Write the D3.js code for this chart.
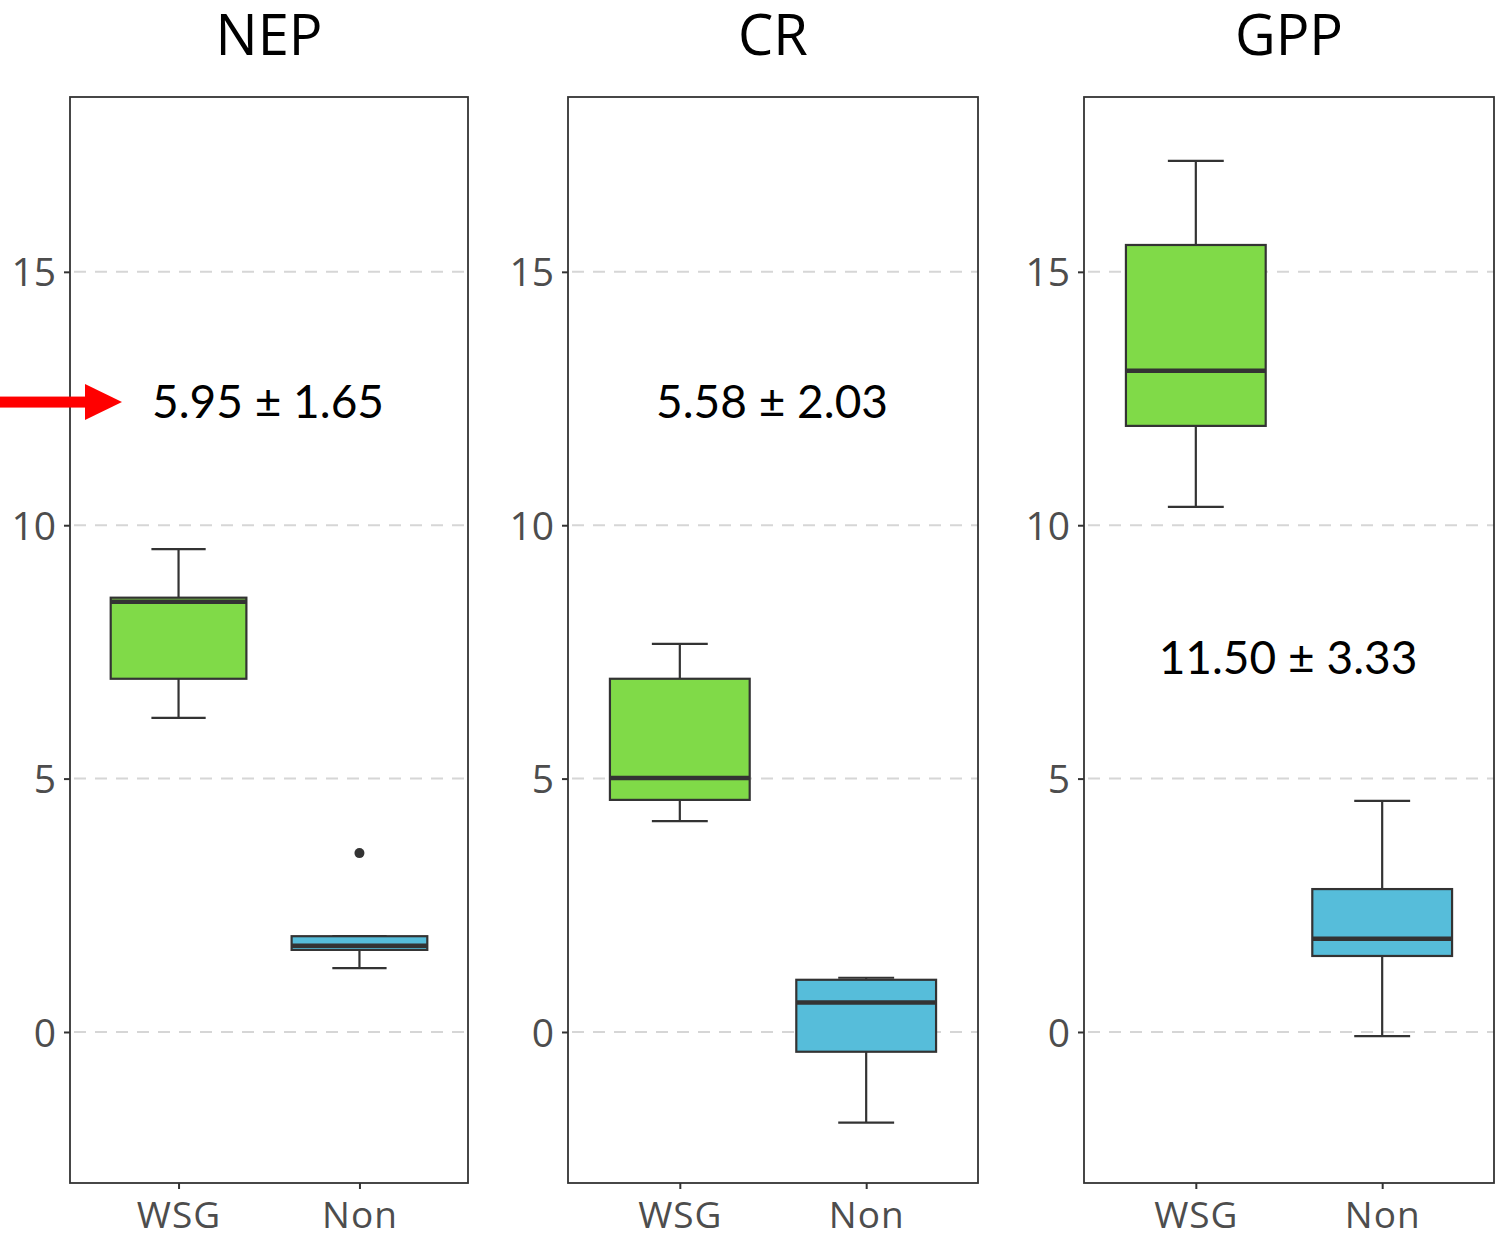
<!DOCTYPE html>
<html>
<head>
<meta charset="utf-8">
<script src="https://cdn.jsdelivr.net/npm/d3@7"></script>
<style>
  body { margin: 0; background: #fff; }
  svg { display: block; }
</style>
</head>
<body>
<div id="chart"></div>
<script>
// chart values
var panels = ["NEP", "CR", "GPP"];
var groups = ["WSG", "Non"];
var yTicks = [0, 5, 10, 15];

// [lower whisker, Q1, median, Q3, upper whisker] per panel, per group
var statsWSG = [
  [6.20, 6.97, 8.49, 8.57, 9.53],
  [4.16, 4.58, 5.01, 6.97, 7.66],
  [10.36, 11.96, 13.05, 15.53, 17.19]
];
var statsNon = [
  [1.26, 1.62, 1.70, 1.89, 1.89],
  [-1.79, -0.39, 0.58, 1.03, 1.07],
  [-0.08, 1.50, 1.84, 2.82, 4.56]
];
var outliersWSG = [[], [], []];
var outliersNon = [[3.53], [], []];

var labels = ["5.95 ± 1.65", "5.58 ± 2.03", "11.50 ± 3.33"];
var labelY = [12.43, 12.43, 7.38];

var W = 1503, H = 1239;
var plotTop = 97, plotBottom = 1183;
var panelX = [[70, 468], [568, 978], [1084, 1494]];
var colors = { WSG: "#80DA48", Non: "#56BDDA" };

var svg = d3.select("#chart").append("svg")
    .attr("width", W)
    .attr("height", H);

var y = d3.scaleLinear().domain([-2.98, 18.45]).range([plotBottom, plotTop]);

panels.forEach(function(name, p) {
    var x0 = panelX[p][0], x1 = panelX[p][1];
    // ggplot-style discrete expansion: 0.6 units each side
    var unit = (x1 - x0) / 2.2;
    var x = d3.scalePoint().domain(groups).range([x0 + 0.6 * unit, x1 - 0.6 * unit]);

    var g = svg.append("g");

    // grid
    g.selectAll("line.grid").data(yTicks).enter().append("line")
        .attr("class", "grid")
        .attr("x1", x0 + 4).attr("x2", x1)
        .attr("y1", function(d) { return y(d); })
        .attr("y2", function(d) { return y(d); })
        .attr("stroke", "#d6d6d6")
        .attr("stroke-width", 2)
        .attr("stroke-dasharray", "12,9");

    // y axis
    var yAxis = g.append("g")
        .attr("transform", "translate(" + x0 + ",0)")
        .call(d3.axisLeft(y).tickValues(yTicks).tickSize(6).tickPadding(8));
    yAxis.select(".domain").remove();
    yAxis.selectAll("line").attr("stroke", "#333").attr("stroke-width", 2);
    yAxis.selectAll("text")
        .attr("font-family", "'Open Sans', sans-serif")
        .attr("font-size", 39)
        .attr("fill", "#4d4d4d")
        .attr("dy", "0.36em");

    // x axis
    var xAxis = g.append("g")
        .attr("transform", "translate(0," + plotBottom + ")")
        .call(d3.axisBottom(x).tickSize(6).tickPadding(13));
    xAxis.select(".domain").remove();
    xAxis.selectAll("line").attr("stroke", "#333").attr("stroke-width", 2);
    xAxis.selectAll("text")
        .attr("font-family", "'Open Sans', sans-serif")
        .attr("font-size", 37)
        .attr("letter-spacing", 1)
        .attr("fill", "#4d4d4d");

    // boxes
    var boxW = 0.75 * unit, capW = 0.3 * unit;
    var rows = [
        { grp: "WSG", s: statsWSG[p], out: outliersWSG[p] },
        { grp: "Non", s: statsNon[p], out: outliersNon[p] }
    ];
    rows.forEach(function(r) {
        var c = x(r.grp);
        var bg = g.append("g");
        // whiskers
        bg.append("line").attr("x1", c).attr("x2", c)
            .attr("y1", y(r.s[3])).attr("y2", y(r.s[4]))
            .attr("stroke", "#333").attr("stroke-width", 2.2);
        bg.append("line").attr("x1", c).attr("x2", c)
            .attr("y1", y(r.s[0])).attr("y2", y(r.s[1]))
            .attr("stroke", "#333").attr("stroke-width", 2.2);
        [r.s[0], r.s[4]].forEach(function(v) {
            bg.append("line").attr("x1", c - capW / 2).attr("x2", c + capW / 2)
                .attr("y1", y(v)).attr("y2", y(v))
                .attr("stroke", "#333").attr("stroke-width", 2.2);
        });
        bg.append("rect")
            .attr("x", c - boxW / 2).attr("width", boxW)
            .attr("y", y(r.s[3])).attr("height", y(r.s[1]) - y(r.s[3]))
            .attr("fill", colors[r.grp])
            .attr("stroke", "#333").attr("stroke-width", 2.2);
        bg.append("line").attr("x1", c - boxW / 2).attr("x2", c + boxW / 2)
            .attr("y1", y(r.s[2])).attr("y2", y(r.s[2]))
            .attr("stroke", "#333").attr("stroke-width", 4.5);
        bg.selectAll("circle").data(r.out).enter().append("circle")
            .attr("cx", c).attr("cy", function(d) { return y(d); })
            .attr("r", 5).attr("fill", "#333");
    });

    // panel border
    g.append("rect")
        .attr("x", x0).attr("y", plotTop)
        .attr("width", x1 - x0).attr("height", plotBottom - plotTop)
        .attr("fill", "none").attr("stroke", "#333").attr("stroke-width", 1.8);

    // title
    g.append("text")
        .attr("x", (x0 + x1) / 2).attr("y", 55)
        .attr("text-anchor", "middle")
        .attr("font-family", "'Open Sans', sans-serif")
        .attr("font-size", 56)
        .attr("fill", "#000")
        .text(name);

    // mean +- sd label
    g.append("text")
        .attr("x", (x0 + x1) / 2 - 1).attr("y", y(labelY[p]))
        .attr("dy", "0.35em")
        .attr("text-anchor", "middle")
        .attr("font-family", "Lato, 'Open Sans', sans-serif")
        .attr("font-size", 46)
        .attr("fill", "#000")
        .text(labels[p]);
});

// red arrow pointing at the NEP label
var arrowY = y(labelY[0]);
svg.append("rect")
    .attr("x", 0).attr("y", arrowY - 5.5)
    .attr("width", 88).attr("height", 11)
    .attr("fill", "#ff0000");
svg.append("path")
    .attr("d", "M85," + (arrowY - 18) + "L122," + arrowY + "L85," + (arrowY + 18) + "Z")
    .attr("fill", "#ff0000");
</script>
</body>
</html>
